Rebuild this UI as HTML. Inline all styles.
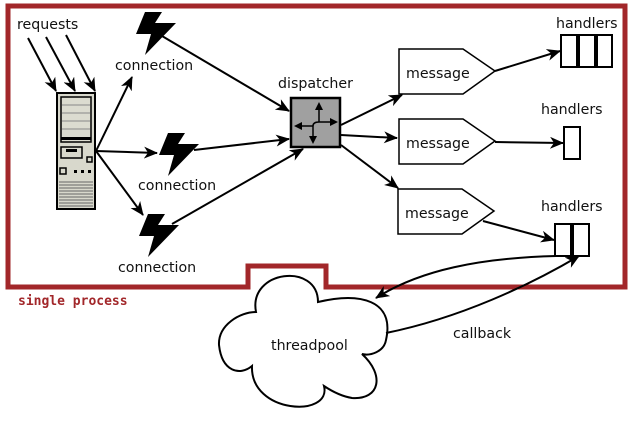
<!DOCTYPE html>
<html><head><meta charset="utf-8"><style>
html,body{margin:0;padding:0;background:#fff;}
svg{display:block;}
text{font-family:"DejaVu Sans","Liberation Sans",sans-serif;font-size:14.2px;fill:#111;}
</style></head><body>
<svg width="637" height="430" viewBox="0 0 637 430" xmlns="http://www.w3.org/2000/svg">
<defs>
<marker id="a" markerWidth="14" markerHeight="12" refX="13" refY="6" orient="auto" markerUnits="userSpaceOnUse">
<path d="M0,0 L14,6 L0,12 L4,6 Z" fill="#000"/></marker>
<g id="bolt"><polygon points="9,0 26,0 19,11 40,11 9,43 15,22 0,22" fill="#000"/></g>
</defs>

<!-- cloud -->
<path d="M256,312 C248,270 318,262 318,302 C360,292 395,300 386,340 C384,352 370,356 362,354 C385,375 380,400 352,398 C340,396 330,390 324,386 C332,418 250,414 252,366 C240,376 222,372 219,345 C218,325 240,312 256,312 Z" fill="#fff" stroke="#000" stroke-width="2"/>
<text x="271" y="350">threadpool</text>

<!-- process border -->
<path d="M8,6 L625,6 L625,287 L326,287 L326,266 L248,266 L248,287 L8,287 Z" fill="none" stroke="#a2272a" stroke-width="5"/>
<text x="18" y="305" style="font-family:'DejaVu Sans Mono','Liberation Mono',monospace;font-size:13px;font-weight:bold;fill:#a2272a">single process</text>

<text x="17" y="29">requests</text>
<g stroke="#000" stroke-width="2" fill="none" marker-end="url(#a)">
<line x1="28" y1="38" x2="56" y2="91"/>
<line x1="46" y1="37" x2="75" y2="91"/>
<line x1="66" y1="35" x2="95" y2="91"/>
<line x1="96" y1="151" x2="132" y2="77"/>
<line x1="96" y1="151" x2="157" y2="153"/>
<line x1="96" y1="151" x2="143" y2="215"/>
<line x1="162" y1="36" x2="289" y2="111"/>
<line x1="194" y1="150" x2="289" y2="139"/>
<line x1="172" y1="224" x2="303" y2="149"/>
<line x1="341" y1="125" x2="402" y2="95"/>
<line x1="341" y1="135" x2="397" y2="138"/>
<line x1="341" y1="145" x2="398" y2="188"/>
<line x1="495" y1="71" x2="560" y2="51"/>
<line x1="495" y1="142" x2="563" y2="143"/>
<line x1="483" y1="221" x2="554" y2="240"/>
<path d="M556,256 C480,258 420,270 376,298"/>
<path d="M386,333 C460,318 530,285 579,256"/>
</g>

<!-- server -->
<rect x="57" y="93" width="38" height="116" fill="#d8d8cc" stroke="#000" stroke-width="2"/>
<rect x="61" y="97" width="30" height="45" fill="#dcdcd0" stroke="#000" stroke-width="1.5"/>
<g stroke="#888" stroke-width="1"><line x1="62" y1="105" x2="90" y2="105"/><line x1="62" y1="113" x2="90" y2="113"/><line x1="62" y1="121" x2="90" y2="121"/><line x1="62" y1="129" x2="90" y2="129"/></g>
<rect x="61" y="137" width="30" height="3" fill="#000"/>
<rect x="61" y="147" width="21" height="11" fill="none" stroke="#000" stroke-width="1.5"/>
<rect x="66" y="149" width="11" height="3" fill="#000"/>
<rect x="87" y="157" width="5" height="5" fill="none" stroke="#000" stroke-width="1.5"/>
<rect x="60" y="168" width="6" height="6" fill="none" stroke="#000" stroke-width="1.5"/>
<rect x="74" y="170" width="3" height="3" fill="#000"/><rect x="81" y="170" width="3" height="3" fill="#000"/><rect x="88" y="170" width="3" height="3" fill="#000"/>
<g stroke="#666" stroke-width="1"><line x1="59" y1="182" x2="93" y2="182"/><line x1="59" y1="185" x2="93" y2="185"/><line x1="59" y1="188" x2="93" y2="188"/><line x1="59" y1="191" x2="93" y2="191"/><line x1="59" y1="194" x2="93" y2="194"/><line x1="59" y1="197" x2="93" y2="197"/><line x1="59" y1="200" x2="93" y2="200"/><line x1="59" y1="203" x2="93" y2="203"/><line x1="59" y1="206" x2="93" y2="206"/></g>

<!-- bolts -->
<use href="#bolt" transform="translate(136,12)"/>
<use href="#bolt" transform="translate(159,133)"/>
<use href="#bolt" transform="translate(139,214)"/>
<text x="115" y="70">connection</text>
<text x="138" y="190">connection</text>
<text x="118" y="272">connection</text>

<!-- dispatcher -->
<text x="278" y="88">dispatcher</text>
<rect x="291" y="98" width="49" height="49" fill="#a0a0a0" stroke="#000" stroke-width="2.5"/>
<g stroke="#000" stroke-width="1.5" fill="none">
<path d="M319,122 L319,106"/><path d="M319,122 L333,122"/>
<path d="M313,126 L298,126"/><path d="M313,126 L313,140"/>
<path d="M319,122 Q313,122 313,126"/>
</g>
<g fill="#000"><path d="M319,102 L315,110 L323,110Z"/><path d="M338,122 L330,118 L330,126Z"/><path d="M294,126 L302,122 L302,130Z"/><path d="M313,144 L309,136 L317,136Z"/></g>

<!-- messages -->
<g fill="#fff" stroke="#000" stroke-width="1.5">
<path d="M399,49 L463,49 L495,71 L463,94 L399,94 Z"/>
<path d="M399,119 L463,119 L495,141 L463,164 L399,164 Z"/>
<path d="M398,189 L462,189 L494,211 L462,234 L398,234 Z"/>
</g>
<text x="406" y="78">message</text>
<text x="406" y="148">message</text>
<text x="405" y="218">message</text>

<!-- handlers -->
<text x="556" y="28">handlers</text>
<text x="541" y="114">handlers</text>
<text x="541" y="211">handlers</text>
<g fill="#fff" stroke="#000" stroke-width="2">
<rect x="561" y="35" width="16" height="32"/><rect x="579" y="35" width="16" height="32"/><rect x="597" y="35" width="15" height="32"/>
<rect x="564" y="127" width="16" height="32"/>
<rect x="555" y="224" width="16" height="32"/><rect x="573" y="224" width="16" height="32"/>
</g>
<text x="453" y="338">callback</text>
</svg>
</body></html>
